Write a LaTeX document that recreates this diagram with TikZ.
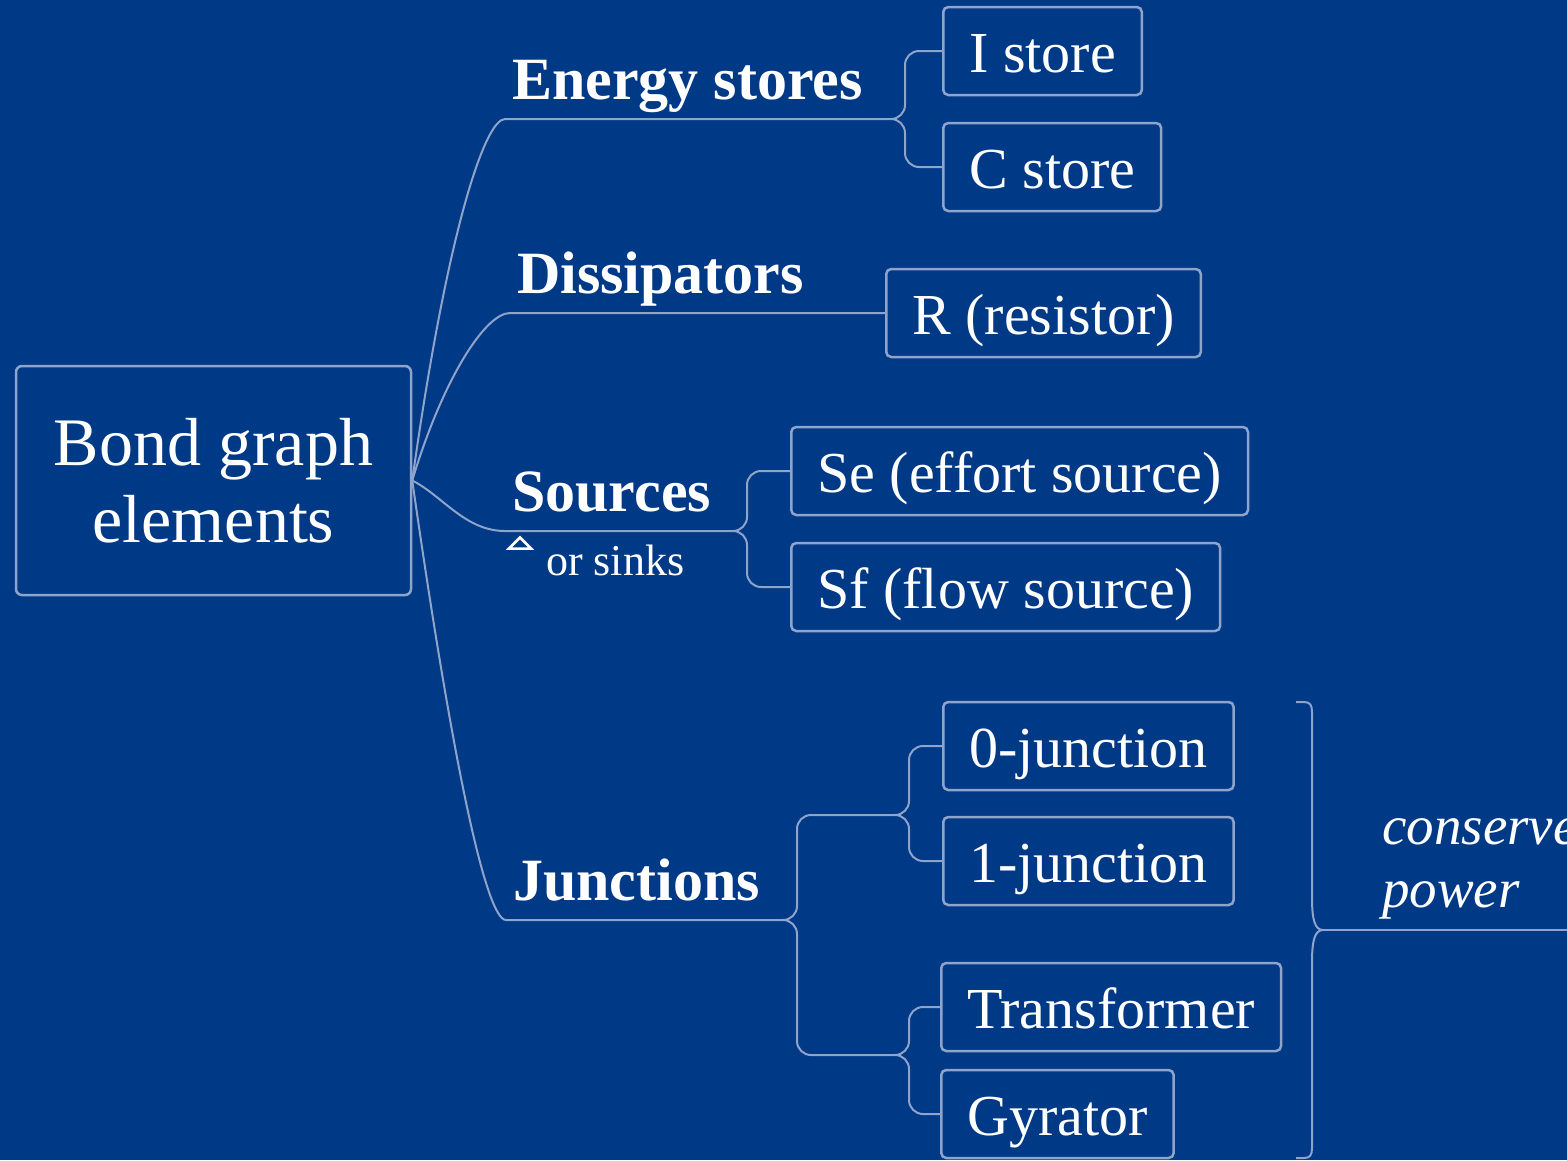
\documentclass[tikz,border=0pt]{standalone}
\usepackage{fontspec}
\setmainfont{Liberation Serif}
\usetikzlibrary{positioning}

\definecolor{bgblue}{HTML}{003986}
\definecolor{linkgray}{HTML}{8FA4CA}

\tikzset{
  link/.style={draw=linkgray, line width=2pt},
  fork/.style={link, rounded corners=14pt},
  leaf/.style={draw=linkgray, line width=2.5pt, rounded corners=5pt, anchor=west, text=white,
    font=\fontsize{58}{64}\selectfont, minimum height=88pt, inner xsep=26pt, inner ysep=10pt,
    text height=46pt, text depth=4pt},
  topic/.style={anchor=south west, text=white, font=\fontsize{60}{66}\selectfont\bfseries,
    inner xsep=7pt, inner ysep=6pt, text depth=13pt},
}

\begin{document}
\begin{tikzpicture}[x=1pt,y=-1pt]
\fill[bgblue] (0,0) rectangle (1567,1160);
\clip (0,0) rectangle (1567,1160);

% central topic
\node[draw=linkgray, line width=2.5pt, rounded corners=6pt, text=white, align=center,
  minimum width=395pt, minimum height=229pt, font=\fontsize{68}{77}\selectfont]
  (root) at (213.5,480.5) {Bond graph\\elements};

% main branches
\node[topic] (es) at (505,119) {Energy stores};
\node[topic] (ds) at (510,313) {Dissipators};
\node[topic] (src) at (505,531) {Sources};
\node[topic] (jn) at (506,920) {Junctions};

% leaves
\node[leaf] (ist) at (942,51) {I store};
\node[leaf] (cst) at (942,167) {C store};
\node[leaf] (res) at (885,313) {R (resistor)};
\node[leaf] (se) at (790,471) {Se (effort source)};
\node[leaf] (sf) at (790,587) {Sf (flow source)};
\node[leaf] (j0) at (942,746) {0-junction};
\node[leaf] (j1) at (942,861) {1-junction};
\node[leaf] (tf) at (940,1007) {Transformer};
\node[leaf] (gy) at (940,1114) {Gyrator};

% split points
\coordinate (esk) at (891,119);
\coordinate (srck) at (733,531);
\coordinate (jnk) at (783,920);
\coordinate (jnu) at (895,815);
\coordinate (jnd) at (895,1055);

% root to topics
\draw[link] (root.east) .. controls +(35,-250) and +(-20,0) .. (es.south west) -- (esk);
\draw[link] (root.east) .. controls +(30,-100) and +(-25,0) .. (ds.south west) -- (res.west);
\draw[link] (root.east) .. controls +(30,15) and +(-40,0) .. (src.south west) -- (srck);
\draw[link] (root.east) .. controls +(40,280) and +(-20,0) .. (jn.south west) -- (jnk);

% topics to leaves
\draw[fork] (esk) -- +(14,0) |- (ist.west);
\draw[fork] (esk) -- +(14,0) |- (cst.west);
\draw[fork] (srck) -- +(14,0) |- (se.west);
\draw[fork] (srck) -- +(14,0) |- (sf.west);
\draw[fork] (jnk) -- +(14,0) |- (jnu);
\draw[fork] (jnk) -- +(14,0) |- (jnd);
\draw[fork] (jnu) -- +(14,0) |- (j0.west);
\draw[fork] (jnu) -- +(14,0) |- (j1.west);
\draw[fork] (jnd) -- +(14,0) |- (tf.west);
\draw[fork] (jnd) -- +(14,0) |- (gy.west);

% note under sources
\coordinate (tri) at (520,543);
\draw[white, line width=2.5pt] (tri) ++(-11,5.5) -- ++(11,-11) -- ++(11,11) -- cycle;
\node[anchor=base west, text=white, font=\fontsize{44}{48}\selectfont, inner sep=0pt]
  (sinks) at (546,575) {or sinks};

% summary brace
\node[anchor=south west, text=white, align=left, font=\fontsize{55}{63}\selectfont\itshape,
  inner xsep=6pt, inner ysep=8pt, text depth=14pt] (cp) at (1376,930) {conserve\\power};
\coordinate (brtip) at (1323,930);
\draw[link] (1296,702) -- (1304,702) .. controls (1310,702) and (1312,705) .. (1312,712)
  -- (1312,898) .. controls (1312,920) and (1315,930) .. (brtip)
  .. controls (1315,930) and (1312,940) .. (1312,962)
  -- (1312,1148) .. controls (1312,1155) and (1310,1158) .. (1304,1158) -- (1296,1158);
\draw[link] (brtip) -- (cp.south west) -- (cp.south east);
\end{tikzpicture}
\end{document}
